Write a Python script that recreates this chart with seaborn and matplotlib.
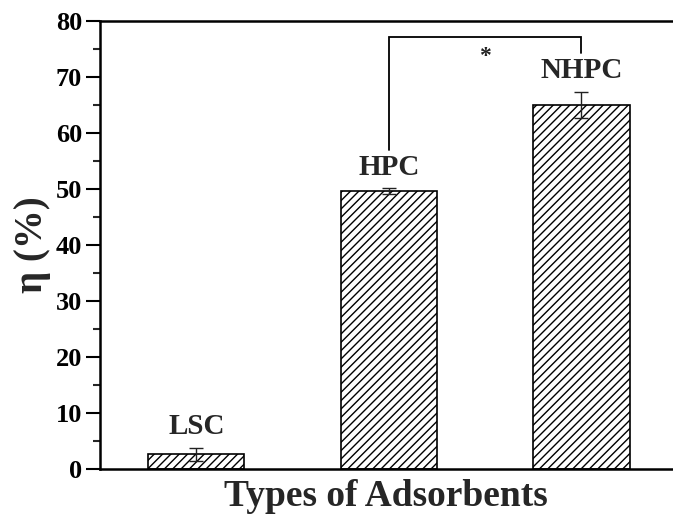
import matplotlib
matplotlib.use("Agg")
import matplotlib.pyplot as plt
from matplotlib.ticker import MultipleLocator
import seaborn as sns
import pandas as pd

categories = ["LSC", "HPC", "NHPC"]
efficiency = [2.6, 49.6, 65.0]
errors = [1.2, 0.5, 2.35]
y_ticks = [0, 10, 20, 30, 40, 50, 60, 70, 80]

sns.set_theme(style="ticks")
plt.rcParams["font.family"] = ["Liberation Serif", "DejaVu Serif"]
plt.rcParams["font.weight"] = "bold"
plt.rcParams["hatch.linewidth"] = 1.0
plt.rcParams["hatch.color"] = "black"

df = pd.DataFrame({"adsorbent": categories, "eta": efficiency})

fig = plt.figure(figsize=(6.73, 5.17), dpi=100)
ax = fig.add_axes([100 / 673, 48 / 517, 572 / 673, 448 / 517])

sns.barplot(data=df, x="adsorbent", y="eta", order=categories, color="white",
            edgecolor="black", linewidth=1.2, width=0.5, saturation=1,
            errorbar=None, ax=ax)
for bar in ax.patches:
    bar.set_hatch("////")
    bar.set_facecolor("white")
    bar.set_edgecolor("black")

xpos = list(range(len(categories)))
ax.errorbar(xpos, efficiency, yerr=errors, fmt="none", ecolor="#222222",
            elinewidth=1.0, capsize=5, capthick=1.0, zorder=5)

# category names above each bar
for x, v, e, name in zip(xpos, efficiency, errors, categories):
    ax.text(x, v + e + 2.4, name, ha="center", va="baseline",
            fontsize=21, fontweight="bold")

# significance bracket between HPC and NHPC
y_top = 77.2
ax.plot([1, 1, 2, 2], [57.0, y_top, y_top, 74.2], color="black", lw=1.3,
        solid_joinstyle="miter", zorder=4)
ax.text(1.5, 73.6, "*", ha="center", va="center", fontsize=17,
        fontweight="bold", color="#222222")

ax.set_xlim(-0.5, 2.47)
ax.set_ylim(0, 80)
ax.set_yticks(y_ticks)
ax.yaxis.set_minor_locator(MultipleLocator(5))
ax.tick_params(axis="y", which="major", length=10, width=1.5, direction="out",
               labelsize=19, pad=3, colors="black")
ax.tick_params(axis="y", which="minor", length=5, width=1.5, direction="out")
ax.tick_params(axis="x", which="both", length=0, labelbottom=False)
for lbl in ax.get_yticklabels():
    lbl.set_fontweight("bold")

for side in ["left", "bottom", "top"]:
    ax.spines[side].set_linewidth(1.8)
    ax.spines[side].set_color("black")
ax.spines["right"].set_visible(False)

ax.set_xlabel("Types of Adsorbents", fontsize=27, fontweight="bold", labelpad=7)
ax.set_ylabel("η (%)", fontsize=28, fontweight="bold", labelpad=3)

fig.savefig("out.png", dpi=100)
